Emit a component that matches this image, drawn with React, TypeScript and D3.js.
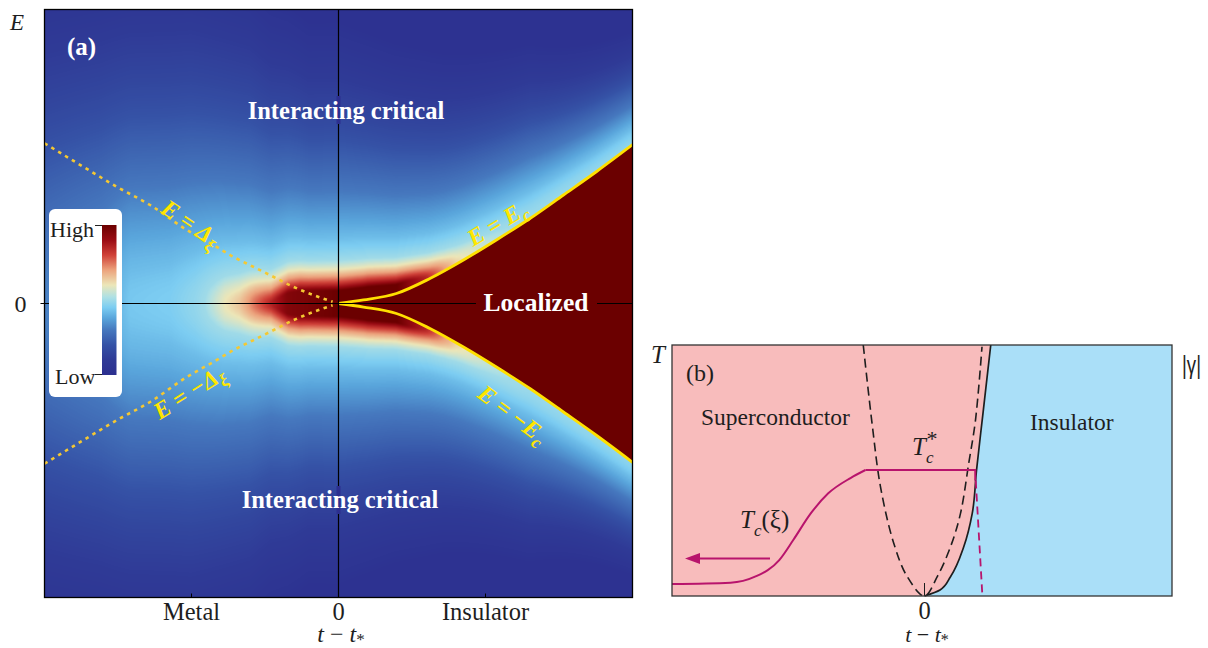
import { useMemo } from "react";
import * as d3 from "d3";

// ---- panel (a): curves (t, E in units of the half-width) ----
const ecT = [0, 0.085, 0.197, 0.311, 0.425, 0.537, 0.651, 0.765, 0.878, 1.0];
const ecE = [0, 0.012, 0.034, 0.085, 0.148, 0.216, 0.289, 0.369, 0.449, 0.54];
const dxT = [-1.0, -0.868, -0.754, -0.641, -0.516, -0.426, -0.358, -0.29, -0.222, -0.154, -0.086, -0.02];
const dxE = [0.545, 0.465, 0.397, 0.335, 0.25, 0.199, 0.159, 0.125, 0.091, 0.057, 0.029, 0.006];

// density of states field: core half height, horizontal offset, vertical fall-off
const coreT = [-0.23, -0.2, -0.17, -0.13, 0, 0.1, 0.2, 0.3, 0.36];
const coreH = [0, 0.017, 0.034, 0.041, 0.044, 0.042, 0.03, 0.006, 0];
const gapT = [-1, -0.95, -0.81, -0.71, -0.573, -0.488, -0.437, -0.386, -0.335, -0.284, -0.233, -0.175, 0, 0.2, 0.3, 0.4, 0.5, 0.65, 1];
const gapD = [0.272, 0.255, 0.204, 0.136, 0.126, 0.102, 0.08, 0.061, 0.051, 0.032, 0.017, 0.005, 0, 0, 0.017, 0.055, 0.075, 0.095, 0.109];
const slopeT = [-1, -0.5, -0.3, -0.1, 0, 0.3, 0.65, 1];
const slopeK = [0.65, 0.65, 0.7, 0.85, 0.85, 1.0, 1.3, 2.0];
const distD = [0, 0.01, 0.024, 0.041, 0.061, 0.088, 0.153, 0.289, 0.51, 0.782];
const distV = [1, 0.9, 0.8, 0.7, 0.6, 0.5, 0.42, 0.3, 0.15, 0.03];
const cmapV = [0, 0.1, 0.2, 0.3, 0.38, 0.45, 0.52, 0.6, 0.7, 0.8, 0.9, 1];
const cmapC = ["#2c2f8f", "#2f3a96", "#3552a6", "#4678be", "#5aa6dc", "#7ccdf2", "#aee0e4", "#ece6b8", "#eca27c", "#cf4038", "#9a0c14", "#6b0000"];
const xTicks = [-0.5, 0, 0.5];
const xTickLabels = ["Metal", "0", "Insulator"];

// ---- panel (b) ----
const bndT = [0, 0.062, 0.104, 0.157, 0.191, 0.208, 0.233, 0.265];
const bndY = [0, 0.024, 0.077, 0.196, 0.329, 0.5, 0.72, 1.0];
const parT = [-0.245, -0.209, -0.176, -0.123, -0.069, 0, 0.051, 0.104, 0.144, 0.177, 0.204, 0.23];
const parY = [1.0, 0.681, 0.435, 0.21, 0.077, 0, 0.077, 0.196, 0.329, 0.529, 0.701, 0.993];
const tcT = [-1.01, -0.776, -0.678, -0.581, -0.525, -0.455, -0.385, -0.296, -0.236];
const tcY = [0.048, 0.053, 0.077, 0.143, 0.223, 0.329, 0.409, 0.47, 0.502];
const tcFlatT = [-0.236, 0.203, 0.203];
const tcFlatY = [0.502, 0.502, 0.46];
const tcDashT = [0.205, 0.231];
const tcDashY = [0.46, 0.01];
const arrowT = [-0.618, -0.958];
const arrowY = 0.149;

const serif = "Liberation Serif, DejaVu Serif, Times New Roman, Times, serif";

function heatmapUrl(size: number) {
  const canvas = document.createElement("canvas");
  canvas.width = size;
  canvas.height = size;
  const ctx = canvas.getContext("2d");
  if (!ctx) return "";
  const img = ctx.createImageData(size, size);
  const ec = d3.scaleLinear().domain(ecT).range(ecE).clamp(true);
  const core = d3.scaleLinear().domain(coreT).range(coreH).clamp(true);
  const gap = d3.scaleLinear().domain(gapT).range(gapD).clamp(true);
  const slope = d3.scaleLinear().domain(slopeT).range(slopeK).clamp(true);
  const fall = d3.scaleLinear().domain(distD).range(distV).clamp(true);
  const cmap = d3.scaleLinear<string>().domain(cmapV).range(cmapC).interpolate(d3.interpolateRgb);
  const lut = d3.range(256).map((i) => d3.rgb(cmap(i / 255)));
  const tx = d3.scaleLinear().domain([0, size]).range([-1, 1]);
  const ey = d3.scaleLinear().domain([0, size]).range([1, -1]);
  for (let i = 0; i < size; i++) {
    const t = tx(i + 0.5);
    const e0 = t > 0 ? ec(t) : 0;
    const c = core(t), g = gap(t), k = slope(t);
    for (let j = 0; j < size; j++) {
      const E = Math.abs(ey(j + 0.5));
      let v = 1;
      if (!(t > 0 && E < e0)) {
        const ex = Math.max(0, E - e0 - c) * k;
        v = fall(Math.hypot(g, ex));
      }
      const col = lut[Math.round(v * 255)];
      const p = (j * size + i) * 4;
      img.data[p] = col.r;
      img.data[p + 1] = col.g;
      img.data[p + 2] = col.b;
      img.data[p + 3] = 255;
    }
  }
  ctx.putImageData(img, 0, 0);
  return canvas.toDataURL();
}

export default function App() {
  const x = d3.scaleLinear().domain([-1, 1]).range([44.5, 632.5]);
  const y = d3.scaleLinear().domain([-1, 1]).range([597.5, 9.5]);
  const url = useMemo(() => heatmapUrl(588), []);

  const smooth = d3.line().curve(d3.curveMonotoneX);
  const ecUp = smooth(ecT.map((t, i) => [x(t), y(ecE[i])]));
  const ecDn = smooth(ecT.map((t, i) => [x(t), y(-ecE[i])]));
  const dxUp = smooth(dxT.map((t, i) => [x(t), y(dxE[i])]));
  const dxDn = smooth(dxT.map((t, i) => [x(t), y(-dxE[i])]));

  const bx = d3.scaleLinear().domain([-1.01, 0.99]).range([672, 1172]);
  const by = d3.scaleLinear().domain([0, 1]).range([596, 345]);
  const bnd = d3.line().curve(d3.curveMonotoneY)(bndT.map((t, i) => [bx(t), by(bndY[i])]));
  const pink = `${bnd}L${bx(-1.01)},${by(1)}L${bx(-1.01)},${by(0)}Z`;
  const par = d3.line().curve(d3.curveCatmullRom)(parT.map((t, i) => [bx(t), by(parY[i])]));
  const tc = smooth(tcT.map((t, i) => [bx(t), by(tcY[i])]));
  const tcFlat = d3.line()(tcFlatT.map((t, i) => [bx(t), by(tcFlatY[i])]));
  const tcDash = d3.line()(tcDashT.map((t, i) => [bx(t), by(tcDashY[i])]));
  const ax0 = bx(arrowT[0]), ax1 = bx(arrowT[1]), ay = by(arrowY);

  const bg = cmapC[0];
  const red = cmapC[cmapC.length - 1];
  const yellowLbl = "#ffe600";
  const ink = "#1e1e1e";

  return (
    <svg width={1208} height={648} style={{ position: "absolute", left: 0, top: 0, background: "#fff", fontFamily: serif }}>
      <defs>
        <clipPath id="plotA">
          <rect x={x(-1)} y={y(1)} width={x(1) - x(-1)} height={y(-1) - y(1)} />
        </clipPath>
        <linearGradient id="cbar" x1="0" y1="1" x2="0" y2="0">
          {cmapV.map((v, i) => (
            <stop key={i} offset={v} stopColor={cmapC[i]} />
          ))}
        </linearGradient>
      </defs>

      {/* ---------- panel (a) ---------- */}
      <image href={url} x={x(-1)} y={y(1)} width={x(1) - x(-1)} height={y(-1) - y(1)} preserveAspectRatio="none" />
      <g clipPath="url(#plotA)" fill="none">
        <path d={dxUp ?? ""} stroke="#f5c832" strokeWidth={2.6} strokeDasharray="3.5,4.5" />
        <path d={dxDn ?? ""} stroke="#f5c832" strokeWidth={2.6} strokeDasharray="3.5,4.5" />
        <path d={ecUp ?? ""} stroke="#ffe000" strokeWidth={2.8} />
        <path d={ecDn ?? ""} stroke="#ffe000" strokeWidth={2.8} />
      </g>
      <line x1={x(0)} x2={x(0)} y1={y(1)} y2={y(-1)} stroke="#000" strokeWidth={1.2} />
      <line x1={x(-1) - 4} x2={x(1)} y1={y(0)} y2={y(0)} stroke="#000" strokeWidth={1.2} />
      {xTicks.map((t) => (
        <line key={t} x1={x(t)} x2={x(t)} y1={y(-1)} y2={y(-1) - 4} stroke="#000" strokeWidth={1} />
      ))}
      <rect x={x(-1)} y={y(1)} width={x(1) - x(-1)} height={y(-1) - y(1)} fill="none" stroke="#000" strokeWidth={1.3} />

      {/* colour bar legend */}
      <rect x={49} y={209} width={73} height={188} rx={6} fill="#fff" />
      <rect x={102} y={225} width={14.5} height={150} fill="url(#cbar)" />
      <line x1={95} x2={102} y1={225.5} y2={225.5} stroke="#222" />
      <line x1={95} x2={102} y1={374.5} y2={374.5} stroke="#222" />
      <text x={50} y={237} fontSize={22} fill={ink}>High</text>
      <text x={55} y={384} fontSize={22} fill={ink}>Low</text>

      {/* region labels */}
      <text x={67} y={55} fontSize={25} fontWeight="bold" fill="#fff">(a)</text>
      <rect x={x(0) - 2} y={96} width={4} height={28} fill={bg} />
      <text x={346} y={119} fontSize={24.5} fontWeight="bold" fill="#fff" textAnchor="middle">Interacting critical</text>
      <rect x={x(0) - 2} y={486} width={4} height={28} fill={bg} />
      <text x={340} y={508} fontSize={24.5} fontWeight="bold" fill="#fff" textAnchor="middle">Interacting critical</text>
      <rect x={476} y={y(0) - 2} width={121} height={4} fill={red} />
      <text x={536} y={311} fontSize={25.5} fontWeight="bold" fill="#fff" textAnchor="middle">Localized</text>

      {/* curve labels */}
      <g fill={yellowLbl} fontSize={24} fontStyle="italic" fontWeight="bold" textAnchor="middle">
        <text transform="translate(191,223) rotate(34)" dy="0.35em">
          E = Δ<tspan dy={6} fontSize={18}>ξ</tspan>
        </text>
        <text transform="translate(189,392) rotate(-32)" dy="0.35em">
          E = −Δ<tspan dy={6} fontSize={18}>ξ</tspan>
        </text>
        <text transform="translate(497,223) rotate(-31)" dy="0.35em">
          E = E<tspan dy={6} fontSize={18}>c</tspan>
        </text>
        <text transform="translate(513,414) rotate(37)" dy="0.35em">
          E = −E<tspan dy={6} fontSize={18}>c</tspan>
        </text>
      </g>

      {/* axis text */}
      <text x={10} y={30} fontSize={23} fontStyle="italic" fill={ink}>E</text>
      <text x={26.5} y={312} fontSize={24} fill={ink} textAnchor="end">0</text>
      {xTicks.map((t, i) => (
        <text key={t} x={x(t)} y={620} fontSize={24.5} fill={ink} textAnchor="middle">{xTickLabels[i]}</text>
      ))}
      <text x={341} y={642} fontSize={24} fill={ink} textAnchor="middle">
        <tspan fontStyle="italic">t</tspan> − <tspan fontStyle="italic">t</tspan>
        <tspan dy={3} fontSize={17}>*</tspan>
      </text>

      {/* ---------- panel (b) ---------- */}
      <rect x={bx(-1.01)} y={by(1)} width={bx(0.99) - bx(-1.01)} height={by(0) - by(1)} fill="#aadff8" />
      <path d={pink} fill="#f8bcbc" />
      <path d={par ?? ""} fill="none" stroke={ink} strokeWidth={1.6} strokeDasharray="9,5" />
      <path d={bnd ?? ""} fill="none" stroke={ink} strokeWidth={1.7} />
      <path d={tc ?? ""} fill="none" stroke="#b8146c" strokeWidth={2} />
      <path d={tcFlat ?? ""} fill="none" stroke="#b8146c" strokeWidth={2} />
      <path d={tcDash ?? ""} fill="none" stroke="#b8146c" strokeWidth={1.8} strokeDasharray="8,5" />
      <line x1={ax0} x2={ax1 + 12} y1={ay} y2={ay} stroke="#b8146c" strokeWidth={2} />
      <path d={`M${ax1},${ay}L${ax1 + 15},${ay - 5.5}L${ax1 + 15},${ay + 5.5}Z`} fill="#b8146c" />
      <line x1={bx(0)} x2={bx(0)} y1={by(0)} y2={by(0) - 13} stroke={ink} strokeWidth={1} />
      <rect x={bx(-1.01)} y={by(1)} width={bx(0.99) - bx(-1.01)} height={by(0) - by(1)} fill="none" stroke="#333" strokeWidth={1.3} />

      <text x={686} y={381} fontSize={24} fill={ink}>(b)</text>
      <text x={701} y={425} fontSize={23.5} fill={ink}>Superconductor</text>
      <text x={1030} y={430} fontSize={23.5} fill={ink}>Insulator</text>
      <text x={912} y={455} fontSize={25} fill={ink}>
        <tspan fontStyle="italic">T</tspan>
        <tspan dy={8} fontSize={17} fontStyle="italic">c</tspan>
        <tspan dx={-7} dy={-17} fontSize={22}>*</tspan>
      </text>
      <text x={740} y={528} fontSize={25} fill={ink}>
        <tspan fontStyle="italic">T</tspan>
        <tspan dy={8} fontSize={17} fontStyle="italic">c</tspan>
        <tspan dy={-8}>(ξ)</tspan>
      </text>
      <text x={651} y={363} fontSize={25} fontStyle="italic" fill={ink}>T</text>
      <text x={1182} y={374} fontSize={26} fill={ink} fontFamily="Liberation Sans, Arial, sans-serif" textLength={19} lengthAdjust="spacingAndGlyphs">|γ|</text>
      <text x={bx(0)} y={619} fontSize={24.5} fill={ink} textAnchor="middle">0</text>
      <text x={927} y={642} fontSize={22} fill={ink} textAnchor="middle">
        <tspan fontStyle="italic">t</tspan> − <tspan fontStyle="italic">t</tspan>
        <tspan dy={3} fontSize={16}>*</tspan>
      </text>
    </svg>
  );
}
